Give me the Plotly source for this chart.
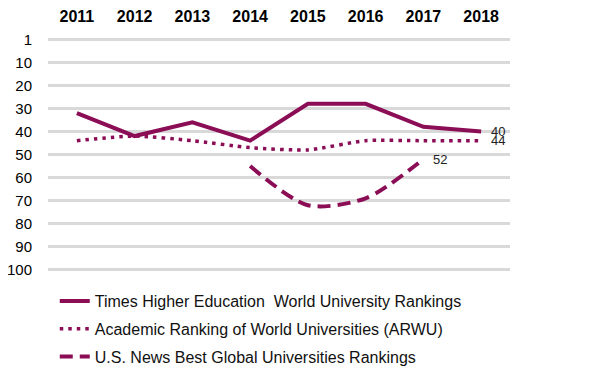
import plotly.graph_objects as go

years = ["2011", "2012", "2013", "2014", "2015", "2016", "2017", "2018"]
the_rank = [32, 42, 36, 44, 28, 28, 38, 40]
arwu_rank = [44, 42, 44, 47, 48, 44, 44, 44]
usnews_rank = [None, None, None, 55, 72, 69, 52, None]
y_ticks = [0, 10, 20, 30, 40, 50, 60, 70, 80, 90, 100]
y_tick_labels = ["1", "10", "20", "30", "40", "50", "60", "70", "80", "90", "100"]

color = "#8B0D55"
label_font = dict(family="Liberation Sans, Arial", size=13, color="#222")

def last_point(vals):
    idx = max(i for i, v in enumerate(vals) if v is not None)
    return idx, vals[idx]

fig = go.Figure()
fig.add_trace(go.Scatter(
    x=years, y=the_rank, mode="lines", legendgroup="a",
    name="Times Higher Education  World University Rankings",
    line=dict(color=color, width=4),
))
fig.add_trace(go.Scatter(
    x=years, y=arwu_rank, mode="lines", legendgroup="b",
    name="Academic Ranking of World Universities (ARWU)",
    line=dict(color=color, width=3.5, dash="3.5px,5px", shape="spline", smoothing=0.6),
))
fig.add_trace(go.Scatter(
    x=years, y=usnews_rank, mode="lines", legendgroup="c",
    name="U.S. News Best Global Universities Rankings",
    line=dict(color=color, width=4, dash="13px,7px", shape="spline", smoothing=0.8),
    connectgaps=False,
))

for vals in (the_rank, arwu_rank, usnews_rank):
    idx, ly = last_point(vals)
    fig.add_annotation(x=idx, y=ly, text=str(ly), showarrow=False,
                       xanchor="left", yanchor="middle", xshift=8,
                       font=label_font)

fig.update_layout(
    width=592, height=369,
    margin=dict(l=40, r=90, t=29, b=105, autoexpand=False),
    paper_bgcolor="white", plot_bgcolor="white",
    font=dict(family="Liberation Sans, Arial", size=15, color="#000"),
    showlegend=True,
    legend=dict(
        xref="container", yref="container",
        x=0.079, y=0.252, xanchor="left", yanchor="top",
        font=dict(size=16, color="#111"),
        tracegroupgap=4, itemwidth=30,
    ),
    xaxis=dict(
        type="category", side="top", range=[-0.5, 7.5], automargin=False,
        showgrid=False, showline=False, zeroline=False,
        ticks="outside", ticklen=8, tickcolor="rgba(0,0,0,0)",
        tickfont=dict(size=16, color="#000", family="Liberation Sans, Arial", weight="bold"),
    ),
    yaxis=dict(
        range=[101, -1], tickvals=y_ticks, ticktext=y_tick_labels, automargin=False,
        showgrid=True, gridcolor="#d9d9d9", gridwidth=3,
        zeroline=False, showline=False,
        ticks="outside", ticklen=12, tickcolor="rgba(0,0,0,0)",
        tickfont=dict(size=15, color="#000"),
    ),
)
fig.write_html("out.html")
